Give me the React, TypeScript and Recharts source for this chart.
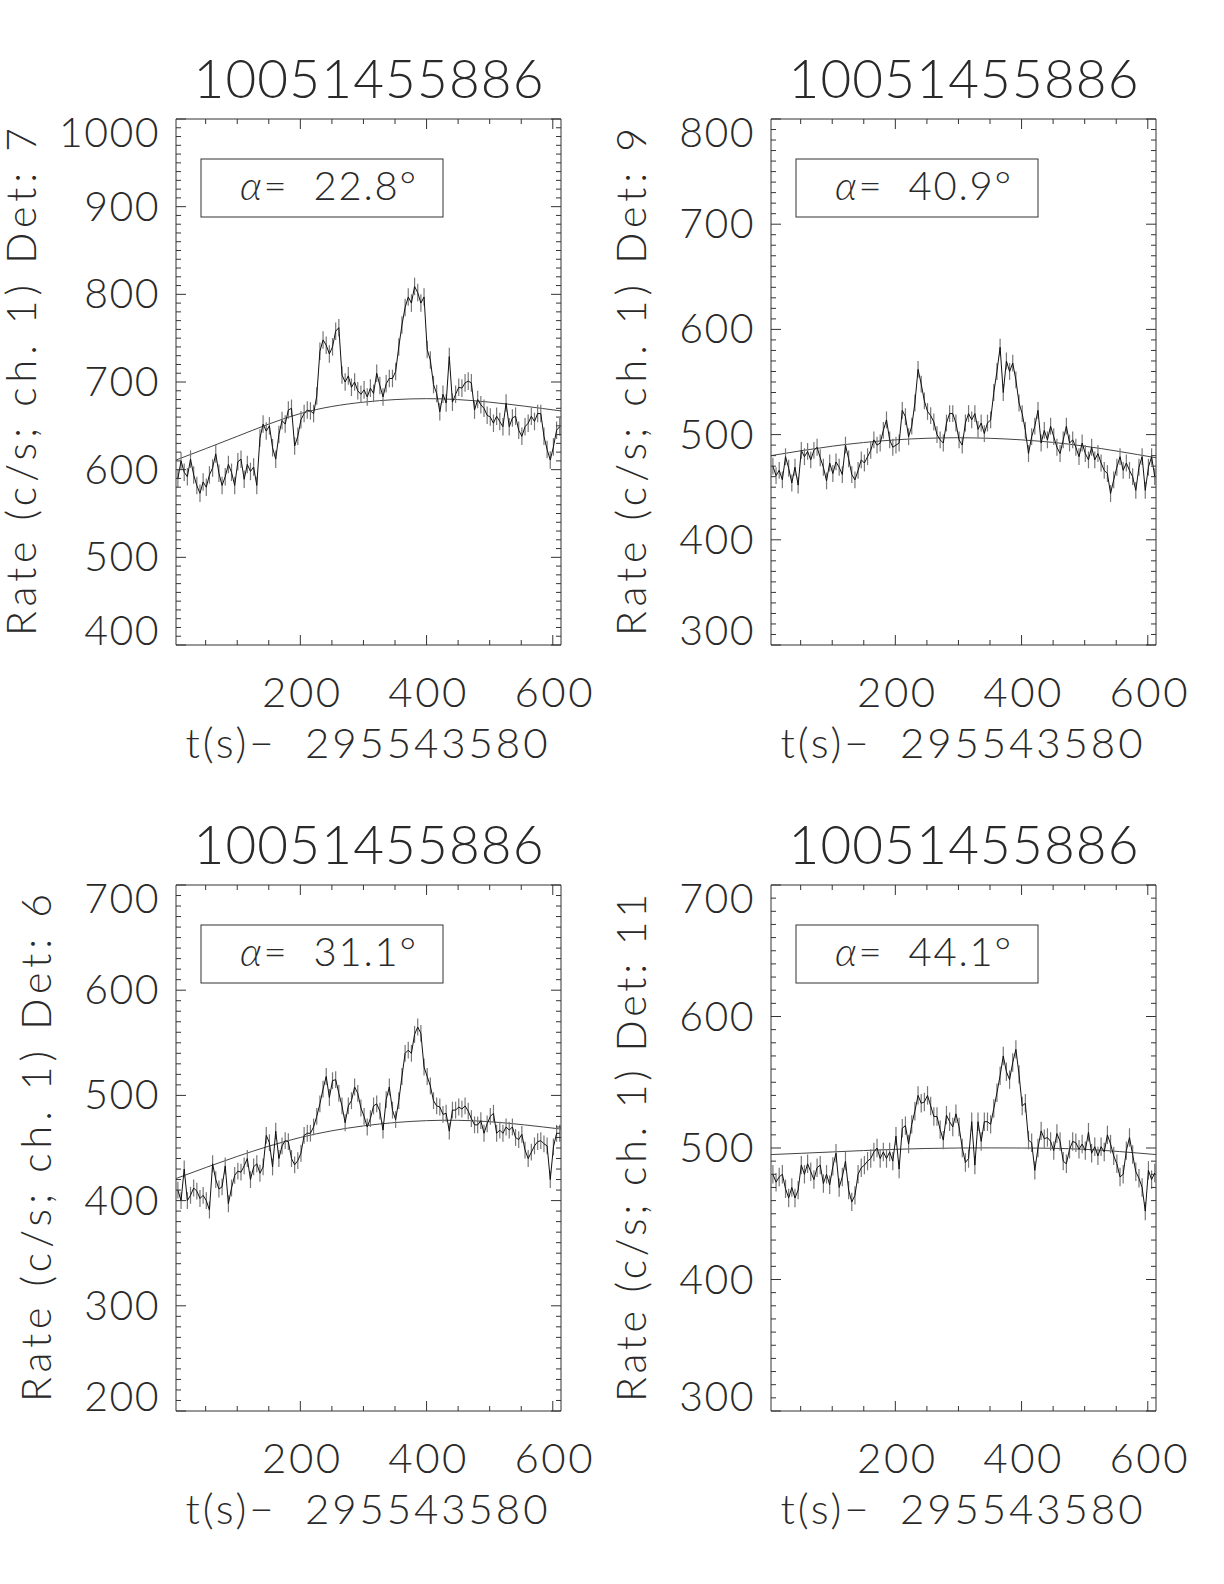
import React from 'react';
import { LineChart, Line, XAxis, YAxis, ErrorBar } from 'recharts';

// ---------- data ----------
const TIME = [
  6, 11, 16, 21, 26, 31, 36, 41, 46, 51,
  56, 61, 66, 71, 76, 81, 86, 91, 96, 101,
  106, 111, 116, 121, 126, 131, 136, 141, 146, 151,
  156, 161, 166, 171, 176, 181, 186, 191, 196, 201,
  206, 211, 216, 221, 226, 231, 236, 241, 246, 251,
  256, 261, 266, 271, 276, 281, 286, 291, 296, 301,
  306, 311, 316, 321, 326, 331, 336, 341, 346, 351,
  356, 361, 366, 371, 376, 381, 386, 391, 396, 401,
  406, 411, 416, 421, 426, 431, 436, 441, 446, 451,
  456, 461, 466, 471, 476, 481, 486, 491, 496, 501,
  506, 511, 516, 521, 526, 531, 536, 541, 546, 551,
  556, 561, 566, 571, 576, 581, 586, 591, 596, 601,
  606, 611,
];

const RATE_DET7 = [
  590, 610, 597, 592, 612, 594, 582, 573, 586, 580,
  594, 602, 618, 596, 582, 592, 606, 597, 582, 609,
  612, 589, 606, 598, 603, 582, 636, 652, 644, 650,
  625, 612, 640, 656, 652, 668, 670, 627, 638, 657,
  664, 668, 667, 664, 684, 735, 748, 742, 732, 740,
  758, 762, 708, 700, 707, 694, 700, 690, 686, 691,
  683, 693, 687, 710, 696, 683, 698, 704, 704, 712,
  740, 765, 785, 797, 790, 809, 802, 790, 797, 737,
  725, 697, 687, 666, 686, 676, 729, 677, 686, 694,
  693, 699, 701, 699, 668, 680, 674, 670, 662, 660,
  653, 661, 655, 649, 676, 649, 659, 661, 645, 638,
  649, 653, 661, 655, 664, 664, 638, 623, 611, 626,
  645, 649,
];

const RATE_DET9 = [
  470, 461, 466, 457, 479, 468, 454, 469, 452, 485,
  479, 484, 476, 485, 488, 478, 469, 456, 473, 463,
  474, 469, 462, 490, 477, 462, 457, 466, 476, 473,
  479, 485, 495, 490, 492, 504, 514, 495, 488, 490,
  492, 523, 517, 498, 508, 530, 562, 548, 532, 522,
  518, 512, 500, 495, 492, 511, 520, 520, 511, 495,
  490, 511, 520, 514, 520, 505, 511, 501, 511, 514,
  540, 560, 583, 540, 570, 560, 568, 552, 530, 520,
  504, 482, 498, 508, 523, 492, 504, 495, 508, 498,
  488, 482, 495, 508, 492, 495, 488, 479, 492, 482,
  476, 488, 476, 482, 473, 466, 463, 444, 457, 469,
  479, 466, 473, 466, 460, 447, 469, 479, 447, 469,
  479, 460,
];

const RATE_DET6 = [
  410, 400, 430, 400, 405, 412, 409, 402, 405, 400,
  391, 435, 420, 411, 413, 433, 397, 412, 424, 428,
  427, 433, 440, 420, 432, 435, 426, 432, 462, 455,
  432, 466, 440, 452, 457, 456, 440, 434, 438, 445,
  462, 464, 464, 470, 480, 492, 506, 518, 498, 514,
  515, 502, 490, 474, 490, 495, 508, 502, 488, 480,
  470, 478, 490, 492, 485, 467, 496, 508, 486, 477,
  495, 518, 540, 543, 540, 558, 565, 559, 527, 518,
  509, 495, 490, 489, 482, 483, 466, 486, 486, 489,
  487, 490, 485, 478, 472, 472, 476, 464, 473, 480,
  483, 464, 467, 464, 470, 467, 470, 460, 458, 463,
  448, 440, 446, 452, 456, 457, 454, 452, 420, 451,
  464, 464,
];

const RATE_DET11 = [
  480, 474, 478, 480, 469, 462, 470, 462, 468, 487,
  480, 488, 482, 476, 485, 487, 473, 480, 472, 486,
  496, 470, 478, 490, 468, 459, 464, 480, 485, 487,
  490, 492, 497, 500, 492, 497, 492, 497, 490, 509,
  484, 515, 517, 503, 518, 528, 540, 534, 535, 540,
  532, 524, 524, 514, 506, 525, 520, 516, 526, 516,
  500, 489, 492, 520, 487, 520, 505, 520, 520, 518,
  530, 542, 555, 570, 558, 552, 565, 575, 556, 532,
  534, 506, 504, 483, 500, 513, 507, 508, 505, 498,
  511, 505, 490, 488, 499, 505, 504, 499, 503, 498,
  512, 496, 501, 494, 501, 497, 510, 503, 494, 488,
  478, 480, 498, 508, 495, 482, 477, 470, 452, 483,
  476, 481,
];

const BG_TIME = [3, 100, 200, 300, 400, 500, 613];
const BG_DET7 = [611, 638, 664, 677, 681, 677, 667];
const BG_DET9 = [480, 489, 495, 497, 495, 489, 478];
const BG_DET6 = [421, 442, 460, 471, 476, 475, 468];
const BG_DET11 = [495, 497, 499, 500, 500, 499, 495];

const ERRORS = [10, 8, 8, 7];
const DETECTORS = ['7', '9', '6', '11'];
const ANGLES = ['22.8', '40.9', '31.1', '44.1'];
const Y_MIN = [400, 300, 200, 300];
const Y_MAX = [1000, 800, 700, 700];
const BURST_ID = '10051455886';
const T_ZERO = '295543580';
const X_DOMAIN = [3, 613];
const X_TICK_LABELS = [200, 400, 600];

// ---------- layout ----------
const CHART_W = 600;
const CHART_H = 760;
const PLOT_L = 176;
const PLOT_T = 119;
const PLOT_W = 385;
const PLOT_H = 526;
const AX = 1; // axis thickness reserved by recharts
const PANEL_POS = [
  [0, 0],
  [595, 0],
  [0, 766],
  [595, 766],
];
const YTITLE_X = [36, 51, 51, 51];

const FONT = "Lato, 'DejaVu Sans', sans-serif";
const FW = 300;
const INK = '#2a2a2a';
const LINE_INK = '#111';
const FRAME = '#333';

function steps(a: number, b: number, s: number) {
  const r: number[] = [];
  for (let v = a; v <= b + 1e-9; v += s) r.push(v);
  return r;
}

const X_TICKS = steps(50, 600, 50);

function XTickBottom(props: any) {
  const { x, y, payload } = props;
  const v = payload.value;
  const major = v % 200 === 0;
  const len = major ? 10 : 5;
  return (
    <g>
      <line x1={x} x2={x} y1={y} y2={y - len} stroke={FRAME} strokeWidth={1} />
      {X_TICK_LABELS.includes(v) && (
        <text
          x={x + 2}
          y={y + 62}
          textAnchor="middle"
          fontFamily={FONT}
          fontWeight={FW}
          fontSize={42}
          letterSpacing={2.5}
          fill={INK}
        >
          {v}
        </text>
      )}
    </g>
  );
}

function XTickTop(props: any) {
  const { x, y, payload } = props;
  const v = payload.value;
  const len = v % 200 === 0 ? 10 : 5;
  return <line x1={x} x2={x} y1={y} y2={y + len} stroke={FRAME} strokeWidth={1} />;
}

function makeYTickLeft(yMin: number, yMax: number) {
  return (props: any) => {
    const { x, y, payload } = props;
    const v = payload.value;
    const major = v % 100 === 0;
    const len = major ? 10 : 5;
    const dy = v === yMax ? 14 : v === yMin ? -14 : 0;
    return (
      <g>
        <line x1={x} x2={x + len} y1={y} y2={y} stroke={FRAME} strokeWidth={1} />
        {major && (
          <text
            x={x - 16}
            y={y + dy + 14}
            textAnchor="end"
            fontFamily={FONT}
            fontWeight={FW}
            fontSize={41}
            letterSpacing={1.5}
            fill={INK}
          >
            {v}
          </text>
        )}
      </g>
    );
  };
}

function YTickRight(props: any) {
  const { x, y, payload } = props;
  const v = payload.value;
  const len = v % 100 === 0 ? 10 : 5;
  return <line x1={x} x2={x - len} y1={y} y2={y} stroke={FRAME} strokeWidth={1} />;
}

const SERIES = [RATE_DET7, RATE_DET9, RATE_DET6, RATE_DET11];
const BACKGROUNDS = [BG_DET7, BG_DET9, BG_DET6, BG_DET11];

function Panel({ idx }: { idx: number }) {
  const rate = SERIES[idx];
  const err = ERRORS[idx];
  const rows = TIME.map((t, i) => ({ t, v: rate[i], e: err }));
  const bgRows = BG_TIME.map((t, i) => ({ t, b: BACKGROUNDS[idx][i] }));
  const yMin = Y_MIN[idx];
  const yMax = Y_MAX[idx];
  const yTicks = steps(yMin, yMax, 10);
  const [left, top] = PANEL_POS[idx];
  const cx = PLOT_L + PLOT_W / 2;
  const cy = PLOT_T + PLOT_H / 2;
  const yx = YTITLE_X[idx];
  return (
    <div style={{ position: 'absolute', left, top, width: CHART_W, height: CHART_H }}>
      <LineChart
        width={CHART_W}
        height={CHART_H}
        data={rows}
        margin={{
          top: PLOT_T - AX,
          left: PLOT_L - AX,
          right: CHART_W - PLOT_L - PLOT_W - AX,
          bottom: CHART_H - PLOT_T - PLOT_H - AX,
        }}
      >
        <XAxis
          xAxisId="b"
          dataKey="t"
          type="number"
          domain={X_DOMAIN}
          allowDataOverflow
          ticks={X_TICKS}
          interval={0}
          height={AX}
          tickSize={0}
          tickMargin={0}
          axisLine={{ stroke: FRAME, strokeWidth: 1 }}
          tickLine={false}
          tick={(p: any) => <XTickBottom {...p} />}
        />
        <XAxis
          xAxisId="t"
          orientation="top"
          dataKey="t"
          type="number"
          domain={X_DOMAIN}
          allowDataOverflow
          ticks={X_TICKS}
          interval={0}
          height={AX}
          tickSize={0}
          tickMargin={0}
          axisLine={{ stroke: FRAME, strokeWidth: 1 }}
          tickLine={false}
          tick={(p: any) => <XTickTop {...p} />}
        />
        <YAxis
          yAxisId="l"
          type="number"
          domain={[yMin, yMax]}
          allowDataOverflow
          ticks={yTicks}
          interval={0}
          width={AX}
          tickSize={0}
          tickMargin={0}
          axisLine={{ stroke: FRAME, strokeWidth: 1 }}
          tickLine={false}
          tick={makeYTickLeft(yMin, yMax)}
        />
        <YAxis
          yAxisId="r"
          orientation="right"
          type="number"
          domain={[yMin, yMax]}
          allowDataOverflow
          ticks={yTicks}
          interval={0}
          width={AX}
          tickSize={0}
          tickMargin={0}
          axisLine={{ stroke: FRAME, strokeWidth: 1 }}
          tickLine={false}
          tick={(p: any) => <YTickRight {...p} />}
        />
        <Line
          xAxisId="b"
          yAxisId="l"
          data={bgRows}
          dataKey="b"
          type="natural"
          stroke="#444"
          strokeWidth={1}
          dot={false}
          isAnimationActive={false}
        />
        <Line
          xAxisId="b"
          yAxisId="l"
          dataKey="v"
          type="linear"
          stroke={LINE_INK}
          strokeWidth={1}
          dot={false}
          isAnimationActive={false}
        >
          <ErrorBar dataKey="e" width={0} stroke="#777" strokeWidth={1.2} direction="y" />
        </Line>
      </LineChart>
      <svg
        width={CHART_W}
        height={CHART_H}
        style={{ position: 'absolute', left: 0, top: 0, pointerEvents: 'none', overflow: 'visible' }}
      >
        <text
          x={cx}
          y={98}
          textAnchor="middle"
          fontFamily={FONT}
          fontWeight={FW}
          fontSize={53}
          textLength={350}
          lengthAdjust="spacing"
          fill={INK}
        >
          {BURST_ID}
        </text>
        <text
          x={cx - 2}
          y={PLOT_T + PLOT_H + 113}
          textAnchor="middle"
          fontFamily={FONT}
          fontWeight={FW}
          fontSize={42}
          textLength={362}
          lengthAdjust="spacing"
          fill={INK}
          style={{ whiteSpace: 'pre' }}
        >
          {`t(s)\u2212  ${T_ZERO}`}
        </text>
        <text
          x={yx}
          y={cy}
          transform={`rotate(-90 ${yx} ${cy})`}
          textAnchor="middle"
          fontFamily={FONT}
          fontWeight={FW}
          fontSize={41}
          textLength={508}
          lengthAdjust="spacing"
          fill={INK}
          style={{ whiteSpace: 'pre' }}
        >
          {`Rate (c/s; ch. 1) Det: ${DETECTORS[idx]}`}
        </text>
        <rect x={PLOT_L + 25} y={PLOT_T + 40} width={242} height={58} fill="none" stroke={FRAME} strokeWidth={1} />
        <text
          x={PLOT_L + 64}
          y={PLOT_T + 81}
          fontFamily={FONT}
          fontWeight={FW}
          fontSize={40}
          textLength={176}
          lengthAdjust="spacing"
          fill={INK}
          style={{ whiteSpace: 'pre' }}
        >
          <tspan fontStyle="italic">{'\u03b1'}</tspan>
          {`=  ${ANGLES[idx]}\u00b0`}
        </text>
      </svg>
    </div>
  );
}

export default function App() {
  return (
    <div style={{ position: 'absolute', left: 0, top: 0, width: 1224, height: 1584, background: '#fff', overflow: 'hidden' }}>
      {[0, 1, 2, 3].map((i) => (
        <Panel key={i} idx={i} />
      ))}
    </div>
  );
}
